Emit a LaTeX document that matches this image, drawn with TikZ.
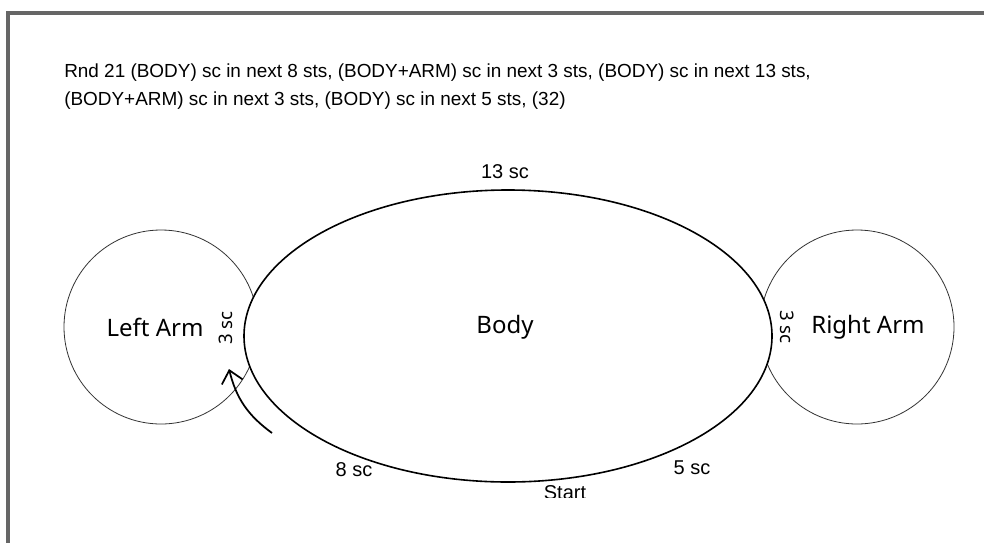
\documentclass[tikz,border=0pt]{standalone}
\usepackage{fontspec}
\setmainfont{Liberation Sans}
\newfontfamily\labelfont{Noto Sans}
\usepackage{xcolor}
\usepackage{tikz}
\usetikzlibrary{shapes, arrows, arrows.meta, positioning, calc}
\definecolor{framegray}{rgb}{0.4,0.4,0.4}

\begin{document}
\begin{tikzpicture}[x=0.75pt, y=-0.75pt,
		arm/.style={circle, draw=black!80, line width=0.6pt, minimum size=145.5pt, inner sep=0pt},
		body/.style={ellipse, draw=black, line width=1.2pt, minimum width=396pt, minimum height=219pt, inner sep=0pt},
		part/.style={font=\labelfont\fontsize{18}{21}\selectfont},
		count/.style={font=\fontsize{15}{17}\selectfont},
		edgecount/.style={font=\labelfont\fontsize{14}{16}\selectfont}]
		\useasboundingbox (0,0) rectangle (984,543);

		% frame
		\draw [framegray, line width=3pt] (984,12.5) -- (8,12.5) -- (8,543);

		% round instructions
		\node [anchor=north west, align=left, font=\fontsize{14.2}{21}\selectfont, inner sep=0pt] (rnd) at (64,64)
			{Rnd 21 (BODY) sc in next 8 sts, (BODY+ARM) sc in next 3 sts, (BODY) sc in next 13 sts,\\
			 (BODY+ARM) sc in next 3 sts, (BODY) sc in next 5 sts, (32)};

		% shapes
		\node [arm] (larm) at (161,327) {};
		\node [arm] (rarm) at (857,327) {};
		\node [body, fill=white] (bdy) at (508,336) {};

		\node [part] (bodytxt) at (505,327) {Body};
		\node [part] (larmtxt) at (155,327) {Left Arm};
		\node [part] (rarmtxt) at (868,327) {Right Arm};

		% stitch counts
		\node [count] (top) at (505,172) {13 sc};
		\node [edgecount, rotate=90] (lsc) at (226,328) {3 sc};
		\node [edgecount, rotate=-90] (rsc) at (787,327) {3 sc};
		\node [count] (eight) at (354,470) {8 sc};
		\node [count] (five) at (692,468) {5 sc};
		\begin{scope}
			\clip (500,470) rectangle (640,497);
			\node [count] (start) at (565,493) {Start};
		\end{scope}

		% direction of work
		\coordinate (tail) at (272,433);
		\coordinate (tip) at (229,369);
		\draw [line width=1.3pt, -{Straight Barb[length=9pt, width=16pt]}] (tail) to[bend left=20] (tip);
	\end{tikzpicture}
\end{document}
